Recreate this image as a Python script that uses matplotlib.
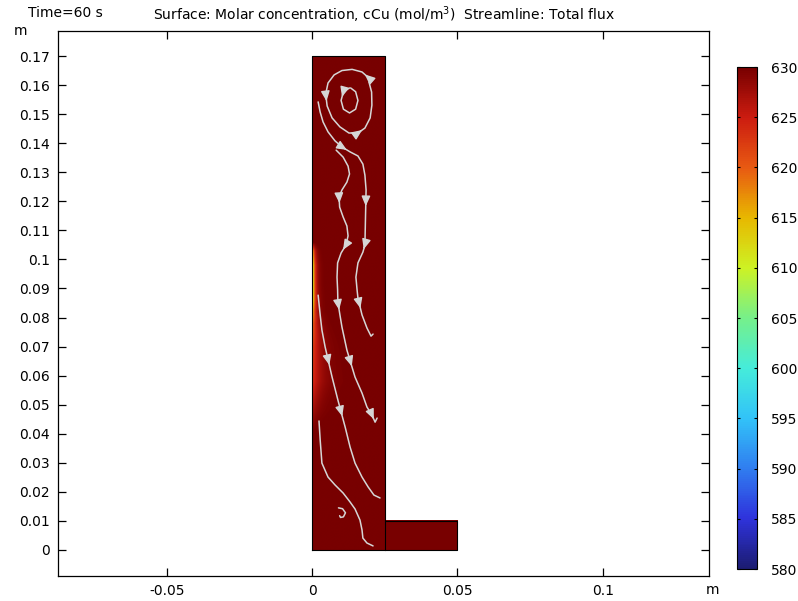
import numpy as np
import matplotlib
matplotlib.use("Agg")
import matplotlib.pyplot as plt
from matplotlib.colors import LinearSegmentedColormap
from matplotlib.ticker import FuncFormatter
from matplotlib.cm import ScalarMappable
from matplotlib.colors import Normalize

# rainbow colour table, stops every 5 mol/m^3
c_levels = [580, 585, 590, 595, 600, 605, 610, 615, 620, 625, 630]
c_colors = ["#1c1c72", "#2f33dc", "#307ef0", "#32c3f8", "#45ecda", "#76f08a",
            "#cdf224", "#e8b800", "#e85a12", "#cc1c10", "#780000"]

# cCu at the anode wall (x = 0) vs height, and depth of the depleted layer (mm)
wall_y = [0, 40, 48, 58, 70, 78, 82, 86, 92, 98, 103, 106, 170]
wall_c = [630, 630, 627, 623, 621, 617, 610, 603, 600, 601, 609, 630, 630]
wall_d = [0.6, 0.6, 2.2, 3.0, 2.4, 1.5, 1.0, 0.9, 0.8, 0.8, 0.7, 0.5, 0.5]
bulk_c = 630

# geometry (mm)
cell_w, cell_h = 25, 170
outlet_w, outlet_h = 25, 10

# streamlines of the total flux, (x, y) in mm, plus where the arrows sit
vortex_outer = [(19.6, 162.4), (17.2, 164.5), (13.8, 165.4), (10.3, 165.0), (7.6, 163.5),
                (5.5, 160.7), (4.7, 156.9), (5.2, 152.8), (6.9, 148.7), (9.6, 145.6),
                (12.7, 143.5), (15.8, 143.5), (18.2, 145.2), (20.0, 148.7), (20.6, 153.1),
                (20.5, 157.6), (19.6, 161.0)]
vortex_inner = [(12.9, 159.0), (10.8, 157.7), (10.0, 154.7), (10.8, 151.7), (12.9, 150.4),
                (15.0, 151.7), (15.8, 154.7), (15.0, 157.7), (13.3, 159.0)]
line_b = [(2.1, 154.2), (2.8, 150.7), (3.8, 147.3), (5.5, 143.9), (7.9, 140.8), (10.3, 138.7),
          (13.1, 137.0), (15.8, 135.6), (17.5, 132.8), (18.2, 129.0), (18.6, 123.9),
          (18.4, 114.6), (18.2, 105.0), (17.5, 102.5), (15.8, 98.8), (15.1, 93.9),
          (15.5, 89.5), (15.8, 86.7), (17.2, 80.9), (18.9, 76.4), (20.3, 73.6), (21.0, 74.3)]
line_c = [(8.3, 137.6), (10.7, 135.2), (12.4, 132.1), (12.9, 129.4), (12.0, 126.6),
          (10.3, 123.9), (9.3, 121.5), (9.5, 118.0), (10.7, 114.6), (12.0, 111.5),
          (12.4, 108.1), (11.7, 105.0), (10.0, 102.2), (8.8, 98.8), (8.6, 93.9),
          (8.8, 89.5), (8.9, 85.3), (9.6, 80.9), (10.3, 76.7), (12.0, 68.8), (14.8, 59.5),
          (17.2, 54.0), (18.9, 49.2), (20.6, 46.5), (21.7, 44.0), (22.4, 45.4)]
line_d = [(2.1, 87.7), (2.8, 80.9), (3.4, 75.7), (4.5, 69.9), (6.9, 59.5), (8.9, 51.6),
          (11.4, 42.3), (13.1, 35.4), (14.8, 29.9), (17.2, 25.1), (19.3, 21.7),
          (21.3, 18.9), (23.4, 17.9)]
line_e = [(2.4, 44.4), (2.8, 37.9), (3.4, 29.9), (5.5, 25.1), (7.9, 22.4), (10.7, 19.6),
          (13.1, 16.5), (14.8, 14.1), (16.5, 10.3), (17.2, 6.9), (17.5, 4.1), (18.9, 2.4),
          (21.0, 1.4)]
eddy = [(9.1, 14.5), (10.5, 14.2), (11.5, 12.8), (10.8, 11.4), (9.8, 11.2), (9.5, 11.8)]

streamlines = [
    (vortex_outer, [0, 6, 11]),
    (vortex_inner, [1]),
    (line_b, [5, 10, 12, 17]),
    (line_c, [6, 11, 16, 19, 23]),
    (line_d, [3, 5]),
    (line_e, []),
    (eddy, []),
]

cmap = LinearSegmentedColormap.from_list(
    "rainbow_cu", [((v - 580) / 50, c) for v, c in zip(c_levels, c_colors)])
vmin, vmax = 580, 630
sl_color = "#d6d6d6"
fs = 10

fig = plt.figure(figsize=(7.98, 6.01), dpi=100)
ax = fig.add_axes([0.0727, 0.0416, 0.8158, 0.9068])

# concentration field in the tall cell
xs = np.linspace(0, cell_w, 501)
ys = np.linspace(0, cell_h, 1361)
X, Y = np.meshgrid(xs, ys)
c_wall = np.interp(Y, wall_y, wall_c)
d_wall = np.interp(Y, wall_y, wall_d)
C = bulk_c - (bulk_c - c_wall) * np.exp(-X / d_wall)
ax.imshow(C, origin="lower", extent=[0, cell_w / 1000, 0, cell_h / 1000],
          cmap=cmap, vmin=vmin, vmax=vmax, interpolation="bilinear", aspect="auto", zorder=1)
ax.imshow(np.full((2, 2), bulk_c), origin="lower",
          extent=[cell_w / 1000, (cell_w + outlet_w) / 1000, 0, outlet_h / 1000],
          cmap=cmap, vmin=vmin, vmax=vmax, aspect="auto", zorder=1)

# domain outline
ox = np.array([0, cell_w + outlet_w, cell_w + outlet_w, cell_w, cell_w, 0, 0]) / 1000
oy = np.array([0, 0, outlet_h, outlet_h, cell_h, cell_h, 0]) / 1000
ax.plot(ox, oy, color="black", lw=0.8, zorder=3)
ax.plot([cell_w / 1000, cell_w / 1000], [0, outlet_h / 1000], color="black", lw=0.8, zorder=3)

# streamlines with arrow heads
for pts, arrows in streamlines:
    p = np.array(pts) / 1000
    ax.plot(p[:, 0], p[:, 1], color=sl_color, lw=1.1, zorder=4, solid_capstyle="round")
    for i in arrows:
        a, b = p[i], p[i + 1]
        ax.annotate("", xy=a + 0.6 * (b - a), xytext=a + 0.3 * (b - a),
                    arrowprops=dict(arrowstyle="-|>,head_length=0.8,head_width=0.35",
                                    color=sl_color, lw=1.0, shrinkA=0, shrinkB=0,
                                    mutation_scale=7.5),
                    zorder=5)

ax.set_xlim(-0.08741, 0.13661)
ax.set_ylim(-0.00895, 0.1786)
ax.set_xticks([-0.05, 0, 0.05, 0.1])
ax.set_yticks(np.arange(0, 0.1751, 0.01))
fmt = FuncFormatter(lambda v, pos: "%g" % round(v, 4))
ax.xaxis.set_major_formatter(fmt)
ax.yaxis.set_major_formatter(fmt)
ax.tick_params(direction="in", top=True, right=True, length=6, width=0.9,
               labelsize=fs, pad=6)
for s in ax.spines.values():
    s.set_linewidth(0.9)

fig.text(0.0175, 0.949, "m", fontsize=fs, ha="left", va="center")
fig.text(0.884, 0.018, "m", fontsize=fs, ha="left", va="center")
fig.text(0.035, 0.978, "Time=60 s", fontsize=fs, ha="left", va="center")
fig.text(0.481, 0.975, r"Surface: Molar concentration, cCu (mol/m$^3$)  Streamline: Total flux",
         fontsize=fs, ha="center", va="center")

# colour legend
cax = fig.add_axes([0.9236, 0.0532, 0.025, 0.8353])
sm = ScalarMappable(norm=Normalize(vmin, vmax), cmap=cmap)
cb = fig.colorbar(sm, cax=cax, ticks=c_levels)
cb.outline.set_linewidth(0.8)
cax.tick_params(direction="in", left=True, right=True, length=2.5, width=0.8,
                labelsize=fs, pad=10)

fig.savefig("out.png", dpi=100)
